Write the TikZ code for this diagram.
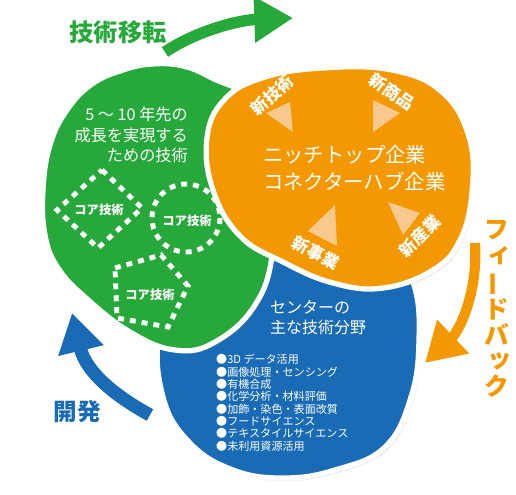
\documentclass[tikz,border=0pt]{standalone}
\usepackage{fontspec}
\setmainfont{Noto Sans CJK JP}
\usetikzlibrary{arrows.meta,shadows}
\definecolor{cgreen}{HTML}{27A83A}
\definecolor{corange}{HTML}{F39800}
\definecolor{cblue}{HTML}{1A6BB6}
\definecolor{clight}{HTML}{F8C88C}
\newcommand{\fs}[2]{\fontsize{#1}{#2}\selectfont}
% kana piccoli e allungamento in verticale
\newcommand{\smallv}[1]{\hspace*{0.25em}\raisebox{0.1em}{#1}}
\newcommand{\barv}{\rotatebox[origin=c]{90}{ー}}
\begin{document}
\begin{tikzpicture}[x=0.02cm, y=-0.02cm,
    blob/.style={draw=white, line width=3pt, drop shadow={opacity=0.22, shadow xshift=1.3pt, shadow yshift=-1.6pt}},
    dashline/.style={draw=white, line width=2.8pt, dash pattern=on 3.4pt off 3.4pt},
    tri/.style={fill=clight},
    core/.style={font=\fs{7}{8}\bfseries, text=white},
    tag/.style={font=\fs{9.5}{10}\bfseries, text=white},
    bigarrow/.style={line width=6.5pt, -{Triangle[length=22pt,width=25pt]}},
]
\useasboundingbox (0,0) rectangle (516,494);

% Cerchi
\draw[blob, fill=cblue] plot[smooth cycle, tension=0.7] coordinates
    {(160,330) (163,397) (190,443) (233,470) (283,478) (335,470) (385,447) (411,397) (419,340) (414,285) (390,245) (330,225) (255,235) (190,270)};
\draw[blob, fill=cgreen] plot[smooth cycle, tension=0.7] coordinates
    {(67,110) (92,84) (123,70) (152,64) (183,66) (212,78) (252,102) (276,165) (273,250) (255,305) (215,342) (175,350) (130,332) (86,298) (58,268) (45,235) (43,190) (50,145)};

% Core
\draw[dashline] (102,170) -- (142,208) -- (98,248) -- (57,210) -- cycle;
\draw[dashline] (186,218) circle (34);
\draw[dashline] (115,268) -- (161,255) -- (188,286) -- (168,327) -- (117,318) -- cycle;
\node[core] (core1) at (99,210) {コア技術};
\node[core] (core2) at (187,221) {コア技術};
\node[core] (core3) at (150,295) {コア技術};

\node[anchor=east, align=right, font=\fs{9.2}{11.8}, text=white] (goal) at (194,135)
    {5 ～ 10 年先の\\成長を実現する\\ための技術};

\draw[blob, fill=corange] plot[smooth cycle, tension=0.7] coordinates
    {(207,138) (224,100) (262,78) (322,68) (392,70) (442,92) (469,137) (472,192) (460,240) (433,270) (383,288) (333,283) (283,262) (240,236) (213,190)};

% Frecce interne
\fill[tri] (266,113) -- (290,102) -- (293,132) -- cycle;
\fill[tri] (373,100) -- (400,113) -- (373,132) -- cycle;
\fill[tri] (335,205) -- (308,231) -- (337,246) -- cycle;
\fill[tri] (388,202) -- (420,213) -- (403,235) -- cycle;
\node[tag, rotate=42] (newtech) at (272,95) {新技術};
\node[tag, rotate=-35] (newprod) at (392,92) {新商品};
\node[tag, rotate=-28] (newbiz) at (316,253) {新事業};
\node[tag, rotate=45] (newind) at (420,236) {新産業};

\node[anchor=west, align=left, font=\fs{11.6}{15.4}, text=white] (hub) at (257,168)
    {ニッチトップ企業\\コネクターハブ企業};

% Centro
\node[anchor=west, align=left, font=\fs{9.1}{11.4}, text=white] (center) at (264,318)
    {センターの\\主な技術分野};
\node[anchor=north west, align=left, font=\fs{6.3}{7.05}, text=white] (fields) at (210,348)
    {●3D データ活用\\●画像処理・センシング\\●有機合成\\●化学分析・材料評価\\●加飾・染色・表面改質\\●フードサイエンス\\●テキスタイルサイエンス\\●未利用資源活用};

% Ciclo
\coordinate (g0) at (165,52);
\coordinate (g1) at (293,18);
\coordinate (o0) at (475,243);
\coordinate (o1) at (425,363);
\coordinate (b0) at (150,415);
\coordinate (b1) at (72,313);
\draw[bigarrow, cgreen] (g0) .. controls (198,30) and (240,20) .. (g1);
\draw[bigarrow, corange, line width=5.8pt] (o0) .. controls (478,292) and (460,330) .. (o1);
\draw[bigarrow, cblue, line width=7.5pt] (b0) .. controls (115,396) and (86,372) .. (b1);

\node[font=\fs{13.8}{14}\bfseries, text=cgreen] (transfer) at (118,32) {技術移転};
\node[font=\fs{13.4}{14}\bfseries, text=cblue] (develop) at (77,412) {開発};
\node[font=\fs{14}{14.6}\bfseries, text=corange, align=center] (feedback) at (497,309)
    {フ\\\smallv{ィ}\\\barv\\ド\\バ\\\smallv{ッ}\\ク};

\end{tikzpicture}
\end{document}
